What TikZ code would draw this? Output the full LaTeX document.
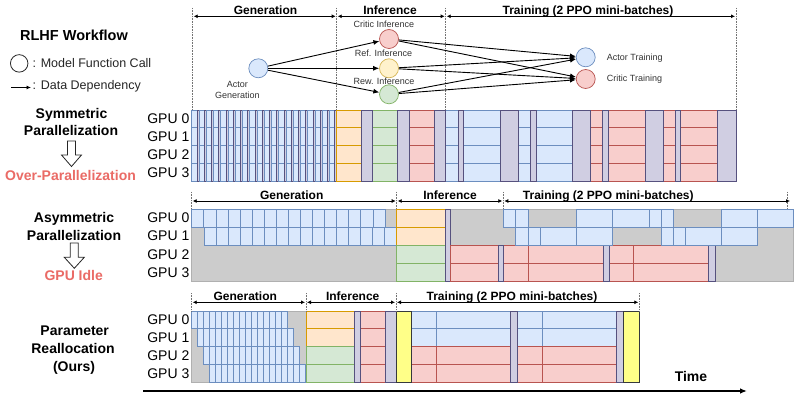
\documentclass[tikz,border=0pt]{standalone}
\usepackage{fontspec}
\setmainfont{Liberation Sans}
\usetikzlibrary{arrows.meta}
\definecolor{bluF}{HTML}{DAE8FC}\definecolor{bluD}{HTML}{6C8EBF}
\definecolor{redF}{HTML}{F8CECC}\definecolor{redD}{HTML}{B85450}
\definecolor{grnF}{HTML}{D5E8D4}\definecolor{grnD}{HTML}{82B366}
\definecolor{orgF}{HTML}{FFE6CC}\definecolor{orgD}{HTML}{D79B00}
\definecolor{ylwF}{HTML}{FFF2CC}\definecolor{ylwD}{HTML}{D6B656}
\definecolor{purF}{HTML}{D0CEE2}\definecolor{purD}{HTML}{56517E}
\definecolor{gryF}{HTML}{CCCCCC}\definecolor{gryD}{HTML}{B0B0B0}
\definecolor{byF}{HTML}{FFFF88}\definecolor{byD}{HTML}{36393D}
\definecolor{txtR}{HTML}{EA6B66}
\tikzset{
  blk/.style={fill=#1F, draw=#1D, line width=0.7pt},
  gpu/.style={inner sep=0pt, anchor=base east, font=\fontsize{14}{16}\selectfont},
  hdr/.style={inner sep=0pt, anchor=base, font=\bfseries\fontsize{12}{14}\selectfont},
  side/.style={inner sep=0pt, anchor=base, font=\bfseries\fontsize{14}{16}\selectfont},
  glbl/.style={inner sep=0pt, anchor=base, font=\fontsize{9}{10.5}\selectfont, text=black!80},
  dimarr/.style={line width=0.9pt, {Latex[length=4pt,width=4pt]}-{Latex[length=4pt,width=4pt]}},
  vdot/.style={densely dotted, black!55, line width=0.6pt},
  fn/.style={circle, minimum size=19pt, inner sep=0pt, line width=0.8pt},
  dep/.style={line width=0.9pt, -{Latex[length=6pt,width=5pt]}},
  hollow/.style={line width=0.8pt, fill=white, draw=black!85}
}
\begin{document}
\begin{tikzpicture}[x=1pt,y=-1pt]
\useasboundingbox[fill=white] (0,0) rectangle (800,403);

% ================= Symmetric =================
\foreach \k in {0,...,19}{
  \pgfmathsetmacro\xa{191.7+7.25*\k}
  \pgfmathsetmacro\xb{\xa+5.25}
  \pgfmathsetmacro\xc{\xa+7.25}
  \foreach \r in {0,...,3}{\draw[blk=blu] (\xa,{110+17.75*\r}) rectangle (\xb,{127.75+17.75*\r});}
  \draw[blk=pur] (\xb,110) rectangle (\xc,181);
}
\foreach \a/\b/\cl in {336.7/361.7/org, 372.3/397.7/grn, 409.3/434/red, 445/458.3/blu, 463.5/500/blu, 518.3/530/blu, 536/572.7/blu, 590.7/602.7/red, 608.3/645/red, 663.3/675/red, 680.7/717.7/red}{
  \foreach \r in {0,...,3}{\draw[blk=\cl] (\a,{110+17.75*\r}) rectangle (\b,{127.75+17.75*\r});}
}
\foreach \a/\b in {361.7/372.3, 397.7/409.3, 434/445, 458.3/463.5, 500/518.3, 530/536, 572.7/590.7, 602.7/608.3, 645/663.3, 675/680.7, 717.7/736}{
  \draw[blk=pur] (\a,110) rectangle (\b,181);
}

% ================= Asymmetric =================
\draw[blk=gry] (191.7,209) rectangle (793.3,281);
\foreach \k in {0,...,15}{
  \draw[blk=blu] ({191.7+12.08*\k},209) rectangle ({203.78+12.08*\k},227);
  \draw[blk=blu] ({204+12.04*\k},227) rectangle ({216.04+12.04*\k},245);
}
\foreach \r in {0,1}{\draw[blk=org] (396.7,{209+18*\r}) rectangle (445,{227+18*\r});}
\foreach \r in {2,3}{\draw[blk=grn] (396.7,{209+18*\r}) rectangle (445,{227+18*\r});}
\draw[blk=pur] (445,209) rectangle (450,281);
\foreach \a/\b in {450/498.3, 503.3/528.3, 528.3/603.3, 609/633.3, 633.3/708.3}{
  \foreach \r in {2,3}{\draw[blk=red] (\a,{209+18*\r}) rectangle (\b,{227+18*\r});}
}
\foreach \a/\b in {498.3/503.3, 603.3/609, 708.3/715}{\draw[blk=pur] (\a,245) rectangle (\b,281);}
\foreach \a/\b in {503.3/515, 515/528.3, 576/612.7, 612.7/649.3, 649.3/661, 661/673.3, 721/757.7, 757.7/793.3}{
  \draw[blk=blu] (\a,209) rectangle (\b,227);}
\foreach \a/\b in {515/528.3, 528.3/540, 540/576, 576/612.7, 661/673.3, 673.3/685.7, 685.7/721, 721/757.7}{
  \draw[blk=blu] (\a,227) rectangle (\b,245);}

% ================= Reallocation =================
\draw[blk=gry] (191.7,311) rectangle (306,382);
\foreach \r in {0,...,3}{
  \foreach \k in {0,...,15}{
    \draw[blk=blu] ({191.7+6*\r+6*\k},{311+17.75*\r}) rectangle ({197.7+6*\r+6*\k},{328.75+17.75*\r});
  }
}
\foreach \r in {0,1}{\draw[blk=org] (306,{311+17.75*\r}) rectangle (354.3,{328.75+17.75*\r});}
\foreach \r in {2,3}{\draw[blk=grn] (306,{311+17.75*\r}) rectangle (354.3,{328.75+17.75*\r});}
\foreach \r in {0,...,3}{\draw[blk=red] (360,{311+17.75*\r}) rectangle (385,{328.75+17.75*\r});}
\foreach \a/\b in {411.7/436, 436/510.7, 517.3/542.7, 542.7/616.7}{
  \foreach \r in {0,1}{\draw[blk=blu] (\a,{311+17.75*\r}) rectangle (\b,{328.75+17.75*\r});}
  \foreach \r in {2,3}{\draw[blk=red] (\a,{311+17.75*\r}) rectangle (\b,{328.75+17.75*\r});}
}
\foreach \a/\b in {354.3/360, 385/396, 510.7/517.3, 616.7/623.3}{\draw[blk=pur] (\a,311) rectangle (\b,382);}
\foreach \a/\b in {396/411.7, 623.3/639.3}{\draw[blk=by] (\a,311) rectangle (\b,382);}

% ================= Headers =================
\foreach \x in {192.7, 336.7, 445.7, 736}{\draw[vdot] (\x,8) -- (\x,110);}
\draw[dimarr] (193.7,16.3) -- (335.7,16.3);
\draw[dimarr] (337.7,16.3) -- (444.7,16.3);
\draw[dimarr] (446.7,16.3) -- (735,16.3);
\node[hdr] at (265.5,14.5) {Generation};
\node[hdr] at (390,14.5) {Inference};
\node[hdr] at (588,14.5) {Training (2 PPO mini-batches)};

\foreach \x in {191.7, 396.7, 503.3, 787}{\draw[vdot] (\x,192) -- (\x,209);}
\draw[dimarr] (192.7,201) -- (395.7,201);
\draw[dimarr] (397.7,201) -- (502.3,201);
\draw[dimarr] (504.3,201) -- (790,201);
\node[hdr] at (291.7,199.5) {Generation};
\node[hdr] at (450,199.5) {Inference};
\node[hdr] at (608.3,199.5) {Training (2 PPO mini-batches)};

\foreach \x in {191.7, 306, 396, 639.3}{\draw[vdot] (\x,293) -- (\x,311);}
\draw[dimarr] (192.7,302.3) -- (305,302.3);
\draw[dimarr] (307,302.3) -- (395,302.3);
\draw[dimarr] (397,302.3) -- (638.3,302.3);
\node[hdr] at (245.3,300.5) {Generation};
\node[hdr] at (352.7,300.5) {Inference};
\node[hdr] at (512,300.5) {Training (2 PPO mini-batches)};

% ================= Workflow graph =================
\node[fn, blk=blu] (ag) at (258.3,68.3) {};
\node[fn, blk=red] (ci) at (389,39) {};
\node[fn, blk=ylw] (ri) at (389,68.3) {};
\node[fn, blk=grn] (wi) at (389,94.3) {};
\node[fn, blk=blu] (at) at (585.7,57.3) {};
\node[fn, blk=red] (ct) at (585.7,79) {};
\foreach \t in {ci,ri,wi}{\draw[dep] (ag) -- (\t);}
\foreach \s in {ci,ri,wi}{\draw[dep] (\s) -- (at); \draw[dep] (\s) -- (ct);}
\node[glbl] (lci) at (384,27.3) {Critic Inference};
\node[glbl] (lri) at (383.5,56.7) {Ref. Inference};
\node[glbl] (lwi) at (384,85) {Rew. Inference};
\node[glbl] (lag1) at (237.3,87.7) {Actor};
\node[glbl] (lag2) at (237.3,98.7) {Generation};
\node[glbl, anchor=base west] (lat) at (606.7,60.5) {Actor Training};
\node[glbl, anchor=base west] (lct) at (606.7,81.8) {Critic Training};

% ================= Legend =================
\node[side, font=\bfseries\fontsize{14.5}{17}\selectfont] (title) at (74,41) {RLHF Workflow};
\node[circle, draw=black!85, line width=0.8pt, minimum size=17.5pt, inner sep=0pt] (legc) at (19.2,63.4) {};
\node[inner sep=0pt, anchor=base west, font=\fontsize{12.5}{15}\selectfont, text=black!85] (legt1) at (32.5,67.8) {: Model Function Call};
\coordinate (la0) at (11,87.5);
\coordinate (la1) at (31,87.5);
\draw[line width=0.8pt, -{Latex[length=4.5pt,width=4pt]}] (la0) -- (la1);
\node[inner sep=0pt, anchor=base west, font=\fontsize{12.5}{15}\selectfont, text=black!85] (legt2) at (32.5,89.3) {: Data Dependency};

% ================= Side labels =================
\node[side] (s1) at (71.5,118.3) {Symmetric};
\node[side] (s2) at (71,136) {Parallelization};
\draw[hollow] (67.5,141) -- (75.5,141) -- (75.5,155) -- (81.5,155) -- (71.5,166.5) -- (61.5,155) -- (67.5,155) -- cycle;
\node[side, text=txtR] (s3) at (70.5,181) {Over-Parallelization};

\node[side] (a1) at (74,222.3) {Asymmetric};
\node[side] (a2) at (74,240.3) {Parallelization};
\draw[hollow] (70.3,243) -- (78.3,243) -- (78.3,257.3) -- (84.3,257.3) -- (74.3,268.3) -- (64.3,257.3) -- (70.3,257.3) -- cycle;
\node[side, text=txtR] (a3) at (73.7,280) {GPU Idle};

\node[side] (p1) at (74.7,335.7) {Parameter};
\node[side] (p2) at (73,353.7) {Reallocation};
\node[side] (p3) at (74,371.2) {(Ours)};

% ================= GPU labels =================
\foreach \r in {0,...,3}{
  \node[gpu] at (189.5,{110+17.75*(\r+0.5)+5}) {GPU \r};
  \node[gpu] at (189.5,{209+18*(\r+0.5)+5}) {GPU \r};
  \node[gpu] at (189.5,{311+17.75*(\r+0.5)+5}) {GPU \r};
}

% ================= Time axis =================
\coordinate (t0) at (143,391);
\coordinate (t1) at (747,391);
\draw[line width=1.3pt, -{Latex[length=7pt,width=5.5pt]}] (t0) -- (t1);
\node[side] (time) at (691,381.8) {Time};
\end{tikzpicture}
\end{document}
